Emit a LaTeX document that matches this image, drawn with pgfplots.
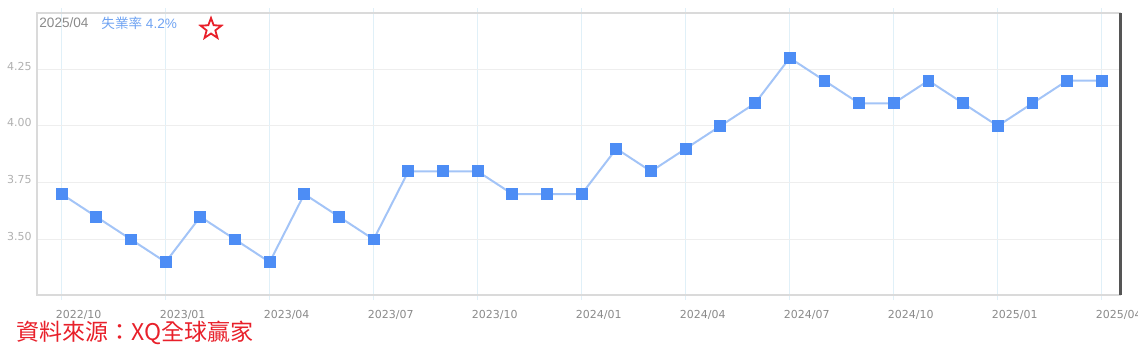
\documentclass[border=0pt]{standalone}
\usepackage{pgfplots}
\pgfplotsset{compat=1.18}
\usetikzlibrary{shapes.geometric}
\usepackage{fontspec}
\setmainfont{DejaVu Sans}
\newfontfamily\lib{Liberation Sans}
\newfontfamily\cjk{Noto Sans CJK TC}
\newfontfamily\djv{DejaVu Sans}
\definecolor{ptblue}{HTML}{4D8DF5}
\definecolor{lnblue}{HTML}{A3C4F7}
\definecolor{vgrid}{HTML}{E0F0F8}
\definecolor{hgrid}{HTML}{EEEEEE}
\definecolor{frame}{HTML}{DADADA}
\definecolor{xlab}{HTML}{8A8A8A}
\definecolor{ylab}{HTML}{B0B0B0}
\definecolor{srcred}{HTML}{E8202A}
\definecolor{titblue}{HTML}{6FA3F2}
\definecolor{cursor}{HTML}{555555}
\begin{document}
\begin{tikzpicture}
\path[use as bounding box] (0pt,0pt) rectangle (569pt,179pt);
\begin{axis}[
  at={(18.5pt,31.5pt)}, anchor=south west,
  scale only axis, width=541.75pt, height=141pt,
  xmin=-0.71, xmax=30.54, ymin=3.255, ymax=4.498,
  xtick={0,3,...,30},
  xticklabels={2022/10,2023/01,2023/04,2023/07,2023/10,2024/01,2024/04,2024/07,2024/10,2025/01,2025/04},
  ytick={3.5,3.75,4,4.25},
  /pgf/number format/fixed, /pgf/number format/fixed zerofill,
  /pgf/number format/precision=2, /pgf/number format/assume math mode=true,
  tick label style={font=\djv\fontsize{5.5}{7}\selectfont},
  xticklabel style={text=xlab, xshift=8.5pt, yshift=-1.5pt},
  yticklabel style={text=ylab, xshift=3.3pt, yshift=1.5pt},
  xmajorgrids, ymajorgrids,
  x grid style={vgrid, line width=0.5pt},
  y grid style={hgrid, line width=0.5pt},
  axis line style={frame, line width=0.6pt},
  tick align=outside,
  xtick style={vgrid, line width=0.5pt},
  ytick style={draw=none},
  major tick length=2.5pt,
  clip=false,
]
\addplot[lnblue, line width=1pt, mark=square*, mark size=2.7pt,
  mark options={draw=ptblue, fill=ptblue, line width=0pt}] coordinates {
(0,3.7)(1,3.6)(2,3.5)(3,3.4)(4,3.6)(5,3.5)(6,3.4)(7,3.7)(8,3.6)(9,3.5)
(10,3.8)(11,3.8)(12,3.8)(13,3.7)(14,3.7)(15,3.7)(16,3.9)(17,3.8)(18,3.9)
(19,4.0)(20,4.1)(21,4.3)(22,4.2)(23,4.1)(24,4.1)(25,4.2)(26,4.1)(27,4.0)
(28,4.1)(29,4.2)(30,4.2)};
\draw[cursor, line width=1.1pt] (rel axis cs:1,0) -- (rel axis cs:1,1);
\end{axis}
\node[anchor=west, inner sep=0pt, text=xlab, font=\lib\fontsize{6.8}{8}\selectfont] at (19.5pt,167.5pt) {2025/04};
\node[anchor=west, inner sep=0pt, text=titblue, font=\lib\fontsize{6.8}{8}\selectfont] at (50.5pt,167.5pt) {{\cjk 失業率} 4.2\%};
\node[star, star points=5, star point ratio=2.4, draw=srcred, line width=0.9pt, minimum size=11pt, inner sep=0pt] at (105.5pt,164.5pt) {};
\node[anchor=west, inner sep=0pt, text=srcred, font=\cjk\fontsize{11.5}{13}\selectfont] at (8pt,12.5pt) {資料來源：XQ全球贏家};
\end{tikzpicture}
\end{document}
